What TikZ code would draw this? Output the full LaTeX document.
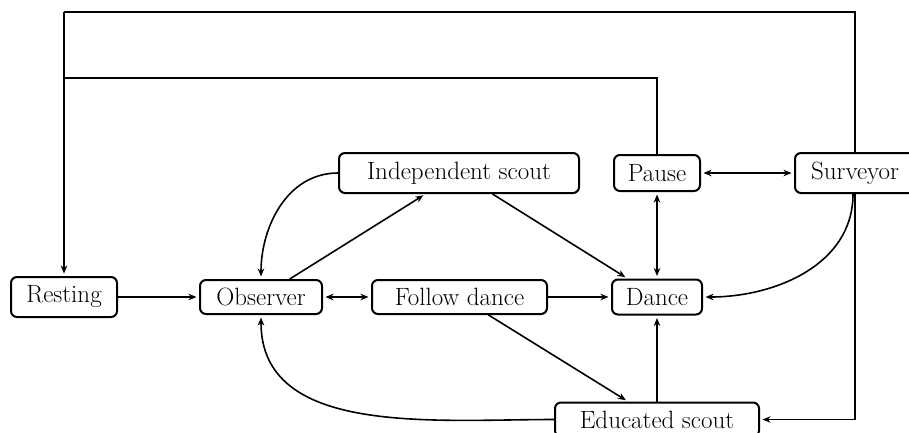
\documentclass[tikz,border=0pt]{standalone}
\usetikzlibrary{arrows.meta}
\begin{document}
\begin{tikzpicture}[x=1pt,y=-1pt,
  state/.style={draw, line width=2pt, rounded corners=6pt, inner sep=0pt,
    font=\fontsize{25}{29}\selectfont},
  conn/.style={line width=1.6pt},
  >={Stealth[length=8pt,width=6.5pt,inset=2.5pt]},
  tip/.style={shorten >=2.5pt},
  tail/.style={shorten <=2.5pt}]
\clip (0,0) rectangle (909,432);
\node[state, minimum width=106pt, minimum height=40pt] (rest) at (64,297) {Resting};
\node[state, minimum width=122pt, minimum height=34pt] (obs) at (261,297) {Observer};
\node[state, minimum width=175pt, minimum height=34pt] (fol) at (459.5,297) {Follow dance};
\node[state, minimum width=90pt, minimum height=35pt] (dance) at (657,297) {Dance};
\node[state, minimum width=240pt, minimum height=40pt] (ind) at (459,173) {Independent scout};
\node[state, minimum width=86pt, minimum height=36pt] (pause) at (657,173) {Pause};
\node[state, minimum width=120pt, minimum height=40pt] (sur) at (855,173) {Surveyor};
\node[state, minimum width=204pt, minimum height=34pt] (edu) at (657,419.5) {Educated scout};
\coordinate (topa) at (64,12);
\coordinate (topb) at (64,78);
% top feedback loops
\draw[conn] (sur.north) |- (topa);
\draw[conn] (pause.north) |- (topb);
\draw[conn,->,tip] (topa) -- (rest.north);
% main flow
\draw[conn,->,tip] (rest) -- (obs);
\draw[conn,<->,tip,tail] (obs) -- (fol);
\draw[conn,->,tip] (fol) -- (dance);
\draw[conn,->,tip] (obs) -- (ind);
\draw[conn,->,tip] (ind.west) to[out=180,in=90] (obs.north);
\draw[conn,->,tip] (ind) -- (dance);
\draw[conn,<->,tip,tail] (pause) -- (dance);
\draw[conn,<->,tip,tail] (pause) -- (sur);
\draw[conn,->,tip] ([xshift=-2pt]sur.south) to[out=-90,in=0] (dance.east);
\draw[conn,->,tip] (fol) -- (edu);
\draw[conn,->,tip] (edu) -- (dance);
\draw[conn,->,tip] (edu.west) to[out=180,in=-90] (obs.south);
\draw[conn,->,tip] (sur.south) |- (edu.east);
\end{tikzpicture}
\end{document}
